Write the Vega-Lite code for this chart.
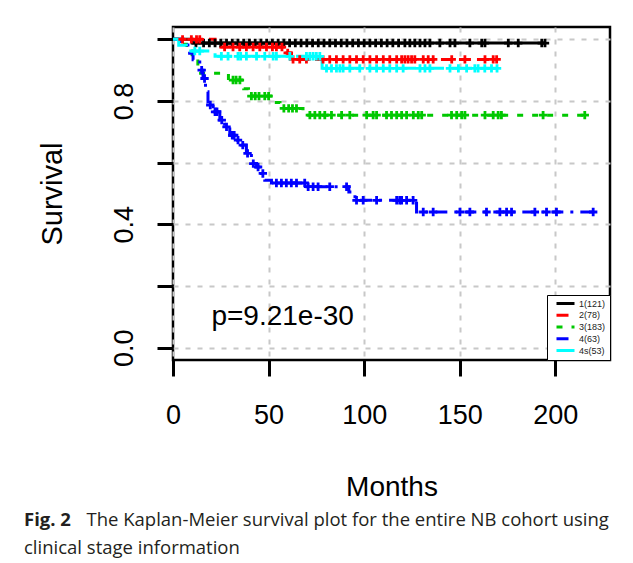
{
  "$schema": "https://vega.github.io/schema/vega-lite/v6.json",
  "width": 437,
  "height": 333,
  "autosize": {"type": "none"},
  "padding": {"left": 173, "top": 27, "right": 23, "bottom": 203},
  "background": "white",
  "datasets": {
    "curves": [
      {"g": "1(121)", "t": 0, "s": 1}, {"g": "1(121)", "t": 10, "s": 0.988}, {"g": "1(121)", "t": 195, "s": 0.988},
      {"g": "2(78)", "t": 0, "s": 1}, {"g": "2(78)", "t": 22, "s": 0.975}, {"g": "2(78)", "t": 58, "s": 0.956}, {"g": "2(78)", "t": 62, "s": 0.935}, {"g": "2(78)", "t": 170, "s": 0.935},
      {"g": "3(183)", "t": 0, "s": 1}, {"g": "3(183)", "t": 4, "s": 0.984}, {"g": "3(183)", "t": 7, "s": 0.962}, {"g": "3(183)", "t": 10, "s": 0.94}, {"g": "3(183)", "t": 13, "s": 0.89}, {"g": "3(183)", "t": 29, "s": 0.868}, {"g": "3(183)", "t": 37, "s": 0.84}, {"g": "3(183)", "t": 39.5, "s": 0.816}, {"g": "3(183)", "t": 53, "s": 0.795}, {"g": "3(183)", "t": 56, "s": 0.776}, {"g": "3(183)", "t": 68, "s": 0.754}, {"g": "3(183)", "t": 215.5, "s": 0.754},
      {"g": "4(63)", "t": 0, "s": 1}, {"g": "4(63)", "t": 4.4, "s": 0.987}, {"g": "4(63)", "t": 7.8, "s": 0.955}, {"g": "4(63)", "t": 10.5, "s": 0.934}, {"g": "4(63)", "t": 14, "s": 0.9}, {"g": "4(63)", "t": 15.7, "s": 0.873}, {"g": "4(63)", "t": 17, "s": 0.83}, {"g": "4(63)", "t": 18.3, "s": 0.787}, {"g": "4(63)", "t": 21, "s": 0.765}, {"g": "4(63)", "t": 24.5, "s": 0.738}, {"g": "4(63)", "t": 27, "s": 0.716}, {"g": "4(63)", "t": 29.7, "s": 0.689}, {"g": "4(63)", "t": 33, "s": 0.673}, {"g": "4(63)", "t": 35.8, "s": 0.657}, {"g": "4(63)", "t": 38.4, "s": 0.63}, {"g": "4(63)", "t": 41, "s": 0.597}, {"g": "4(63)", "t": 43.7, "s": 0.586}, {"g": "4(63)", "t": 46.3, "s": 0.565}, {"g": "4(63)", "t": 48, "s": 0.543}, {"g": "4(63)", "t": 51.5, "s": 0.534}, {"g": "4(63)", "t": 70, "s": 0.522}, {"g": "4(63)", "t": 92, "s": 0.505}, {"g": "4(63)", "t": 95.2, "s": 0.478}, {"g": "4(63)", "t": 127.4, "s": 0.44}, {"g": "4(63)", "t": 221, "s": 0.44},
      {"g": "4s(53)", "t": 0, "s": 1}, {"g": "4s(53)", "t": 3, "s": 0.981}, {"g": "4s(53)", "t": 7, "s": 0.962}, {"g": "4s(53)", "t": 22, "s": 0.945}, {"g": "4s(53)", "t": 78, "s": 0.906}, {"g": "4s(53)", "t": 170, "s": 0.906}
    ],
    "censor": [
      {"g": "1(121)", "t": 12, "s": 0.988}, {"g": "1(121)", "t": 16, "s": 0.988}, {"g": "1(121)", "t": 19, "s": 0.988}, {"g": "1(121)", "t": 22, "s": 0.988}, {"g": "1(121)", "t": 25, "s": 0.988}, {"g": "1(121)", "t": 28, "s": 0.988}, {"g": "1(121)", "t": 31, "s": 0.988}, {"g": "1(121)", "t": 34, "s": 0.988}, {"g": "1(121)", "t": 37, "s": 0.988}, {"g": "1(121)", "t": 40, "s": 0.988}, {"g": "1(121)", "t": 43, "s": 0.988}, {"g": "1(121)", "t": 46, "s": 0.988}, {"g": "1(121)", "t": 49, "s": 0.988}, {"g": "1(121)", "t": 52, "s": 0.988}, {"g": "1(121)", "t": 55, "s": 0.988}, {"g": "1(121)", "t": 58, "s": 0.988}, {"g": "1(121)", "t": 61, "s": 0.988}, {"g": "1(121)", "t": 64, "s": 0.988}, {"g": "1(121)", "t": 67, "s": 0.988}, {"g": "1(121)", "t": 70, "s": 0.988}, {"g": "1(121)", "t": 73, "s": 0.988}, {"g": "1(121)", "t": 76, "s": 0.988}, {"g": "1(121)", "t": 79, "s": 0.988}, {"g": "1(121)", "t": 82, "s": 0.988}, {"g": "1(121)", "t": 85, "s": 0.988}, {"g": "1(121)", "t": 88, "s": 0.988}, {"g": "1(121)", "t": 91, "s": 0.988}, {"g": "1(121)", "t": 94, "s": 0.988}, {"g": "1(121)", "t": 97, "s": 0.988}, {"g": "1(121)", "t": 100, "s": 0.988}, {"g": "1(121)", "t": 103, "s": 0.988}, {"g": "1(121)", "t": 106, "s": 0.988}, {"g": "1(121)", "t": 109, "s": 0.988}, {"g": "1(121)", "t": 112, "s": 0.988}, {"g": "1(121)", "t": 115, "s": 0.988}, {"g": "1(121)", "t": 118, "s": 0.988}, {"g": "1(121)", "t": 121.3, "s": 0.988}, {"g": "1(121)", "t": 123.9, "s": 0.988}, {"g": "1(121)", "t": 126.5, "s": 0.988}, {"g": "1(121)", "t": 129.2, "s": 0.988}, {"g": "1(121)", "t": 131.8, "s": 0.988}, {"g": "1(121)", "t": 134.4, "s": 0.988}, {"g": "1(121)", "t": 139.6, "s": 0.988}, {"g": "1(121)", "t": 144.9, "s": 0.988}, {"g": "1(121)", "t": 147.5, "s": 0.988}, {"g": "1(121)", "t": 155.3, "s": 0.988}, {"g": "1(121)", "t": 161.5, "s": 0.988}, {"g": "1(121)", "t": 163.2, "s": 0.988}, {"g": "1(121)", "t": 175.4, "s": 0.988}, {"g": "1(121)", "t": 180.6, "s": 0.988}, {"g": "1(121)", "t": 192.9, "s": 0.988}, {"g": "1(121)", "t": 194.6, "s": 0.988},
      {"g": "2(78)", "t": 5, "s": 1}, {"g": "2(78)", "t": 9.6, "s": 1}, {"g": "2(78)", "t": 12.3, "s": 1}, {"g": "2(78)", "t": 14, "s": 1}, {"g": "2(78)", "t": 27, "s": 0.975}, {"g": "2(78)", "t": 31.4, "s": 0.975}, {"g": "2(78)", "t": 34.9, "s": 0.975}, {"g": "2(78)", "t": 38.4, "s": 0.975}, {"g": "2(78)", "t": 41.9, "s": 0.975}, {"g": "2(78)", "t": 45.4, "s": 0.975}, {"g": "2(78)", "t": 48.9, "s": 0.975}, {"g": "2(78)", "t": 52, "s": 0.975}, {"g": "2(78)", "t": 54.1, "s": 0.975}, {"g": "2(78)", "t": 57, "s": 0.975}, {"g": "2(78)", "t": 60, "s": 0.956}, {"g": "2(78)", "t": 62.8, "s": 0.935}, {"g": "2(78)", "t": 66.3, "s": 0.935}, {"g": "2(78)", "t": 69.8, "s": 0.935}, {"g": "2(78)", "t": 78.5, "s": 0.935}, {"g": "2(78)", "t": 82, "s": 0.935}, {"g": "2(78)", "t": 85.5, "s": 0.935}, {"g": "2(78)", "t": 89, "s": 0.935}, {"g": "2(78)", "t": 92.5, "s": 0.935}, {"g": "2(78)", "t": 96, "s": 0.935}, {"g": "2(78)", "t": 99.5, "s": 0.935}, {"g": "2(78)", "t": 103, "s": 0.935}, {"g": "2(78)", "t": 106.5, "s": 0.935}, {"g": "2(78)", "t": 110, "s": 0.935}, {"g": "2(78)", "t": 113.4, "s": 0.935}, {"g": "2(78)", "t": 117, "s": 0.935}, {"g": "2(78)", "t": 119.6, "s": 0.935}, {"g": "2(78)", "t": 121.3, "s": 0.935}, {"g": "2(78)", "t": 123, "s": 0.935}, {"g": "2(78)", "t": 124.8, "s": 0.935}, {"g": "2(78)", "t": 126.5, "s": 0.935}, {"g": "2(78)", "t": 130.9, "s": 0.935}, {"g": "2(78)", "t": 133.5, "s": 0.935}, {"g": "2(78)", "t": 136.1, "s": 0.935}, {"g": "2(78)", "t": 145.8, "s": 0.935}, {"g": "2(78)", "t": 152.7, "s": 0.935}, {"g": "2(78)", "t": 163.2, "s": 0.935}, {"g": "2(78)", "t": 167.5, "s": 0.935}, {"g": "2(78)", "t": 169.3, "s": 0.935},
      {"g": "3(183)", "t": 31.4, "s": 0.868}, {"g": "3(183)", "t": 33, "s": 0.868}, {"g": "3(183)", "t": 35, "s": 0.868}, {"g": "3(183)", "t": 41, "s": 0.816}, {"g": "3(183)", "t": 43, "s": 0.816}, {"g": "3(183)", "t": 45, "s": 0.816}, {"g": "3(183)", "t": 48, "s": 0.816}, {"g": "3(183)", "t": 50, "s": 0.816}, {"g": "3(183)", "t": 58, "s": 0.776}, {"g": "3(183)", "t": 60.5, "s": 0.776}, {"g": "3(183)", "t": 62.5, "s": 0.776}, {"g": "3(183)", "t": 64.6, "s": 0.776}, {"g": "3(183)", "t": 71.6, "s": 0.754}, {"g": "3(183)", "t": 74.2, "s": 0.754}, {"g": "3(183)", "t": 76.8, "s": 0.754}, {"g": "3(183)", "t": 79.4, "s": 0.754}, {"g": "3(183)", "t": 82.9, "s": 0.754}, {"g": "3(183)", "t": 88.2, "s": 0.754}, {"g": "3(183)", "t": 92.5, "s": 0.754}, {"g": "3(183)", "t": 101.3, "s": 0.754}, {"g": "3(183)", "t": 104.7, "s": 0.754}, {"g": "3(183)", "t": 106.5, "s": 0.754}, {"g": "3(183)", "t": 111.7, "s": 0.754}, {"g": "3(183)", "t": 114.3, "s": 0.754}, {"g": "3(183)", "t": 117, "s": 0.754}, {"g": "3(183)", "t": 119.6, "s": 0.754}, {"g": "3(183)", "t": 122.2, "s": 0.754}, {"g": "3(183)", "t": 125.7, "s": 0.754}, {"g": "3(183)", "t": 128.3, "s": 0.754}, {"g": "3(183)", "t": 130.1, "s": 0.754}, {"g": "3(183)", "t": 145.7, "s": 0.754}, {"g": "3(183)", "t": 148.4, "s": 0.754}, {"g": "3(183)", "t": 151, "s": 0.754}, {"g": "3(183)", "t": 152.7, "s": 0.754}, {"g": "3(183)", "t": 163.2, "s": 0.754}, {"g": "3(183)", "t": 167.5, "s": 0.754}, {"g": "3(183)", "t": 170.1, "s": 0.754}, {"g": "3(183)", "t": 171.8, "s": 0.754}, {"g": "3(183)", "t": 193.6, "s": 0.754}, {"g": "3(183)", "t": 215.4, "s": 0.754},
      {"g": "4(63)", "t": 15, "s": 0.9}, {"g": "4(63)", "t": 16.5, "s": 0.873}, {"g": "4(63)", "t": 19.5, "s": 0.787}, {"g": "4(63)", "t": 22, "s": 0.765}, {"g": "4(63)", "t": 23, "s": 0.765}, {"g": "4(63)", "t": 25.5, "s": 0.738}, {"g": "4(63)", "t": 28, "s": 0.716}, {"g": "4(63)", "t": 31, "s": 0.689}, {"g": "4(63)", "t": 32, "s": 0.689}, {"g": "4(63)", "t": 34, "s": 0.673}, {"g": "4(63)", "t": 36.5, "s": 0.657}, {"g": "4(63)", "t": 39, "s": 0.63}, {"g": "4(63)", "t": 42, "s": 0.597}, {"g": "4(63)", "t": 44.5, "s": 0.586}, {"g": "4(63)", "t": 47, "s": 0.565}, {"g": "4(63)", "t": 54.1, "s": 0.534}, {"g": "4(63)", "t": 56.7, "s": 0.534}, {"g": "4(63)", "t": 59.3, "s": 0.534}, {"g": "4(63)", "t": 61.9, "s": 0.534}, {"g": "4(63)", "t": 64.6, "s": 0.534}, {"g": "4(63)", "t": 68.9, "s": 0.534}, {"g": "4(63)", "t": 70.7, "s": 0.522}, {"g": "4(63)", "t": 73.3, "s": 0.522}, {"g": "4(63)", "t": 75.9, "s": 0.522}, {"g": "4(63)", "t": 82, "s": 0.522}, {"g": "4(63)", "t": 90.8, "s": 0.522}, {"g": "4(63)", "t": 96, "s": 0.478}, {"g": "4(63)", "t": 99.5, "s": 0.478}, {"g": "4(63)", "t": 106.5, "s": 0.478}, {"g": "4(63)", "t": 117, "s": 0.478}, {"g": "4(63)", "t": 118.6, "s": 0.478}, {"g": "4(63)", "t": 119.6, "s": 0.478}, {"g": "4(63)", "t": 122.2, "s": 0.478}, {"g": "4(63)", "t": 125.6, "s": 0.478}, {"g": "4(63)", "t": 130.9, "s": 0.44}, {"g": "4(63)", "t": 136.1, "s": 0.44}, {"g": "4(63)", "t": 150.1, "s": 0.44}, {"g": "4(63)", "t": 155.3, "s": 0.44}, {"g": "4(63)", "t": 164, "s": 0.44}, {"g": "4(63)", "t": 171, "s": 0.44}, {"g": "4(63)", "t": 174.5, "s": 0.44}, {"g": "4(63)", "t": 177.1, "s": 0.44}, {"g": "4(63)", "t": 189.3, "s": 0.44}, {"g": "4(63)", "t": 195.4, "s": 0.44}, {"g": "4(63)", "t": 200.6, "s": 0.44}, {"g": "4(63)", "t": 219.8, "s": 0.44},
      {"g": "4s(53)", "t": 11.4, "s": 0.962}, {"g": "4s(53)", "t": 14, "s": 0.962}, {"g": "4s(53)", "t": 25.3, "s": 0.945}, {"g": "4s(53)", "t": 28.8, "s": 0.945}, {"g": "4s(53)", "t": 34, "s": 0.945}, {"g": "4s(53)", "t": 35.4, "s": 0.945}, {"g": "4s(53)", "t": 38.4, "s": 0.945}, {"g": "4s(53)", "t": 43.7, "s": 0.945}, {"g": "4s(53)", "t": 48, "s": 0.945}, {"g": "4s(53)", "t": 52.4, "s": 0.945}, {"g": "4s(53)", "t": 54.1, "s": 0.945}, {"g": "4s(53)", "t": 61.1, "s": 0.945}, {"g": "4s(53)", "t": 69.8, "s": 0.945}, {"g": "4s(53)", "t": 71.6, "s": 0.945}, {"g": "4s(53)", "t": 73.3, "s": 0.945}, {"g": "4s(53)", "t": 75, "s": 0.945}, {"g": "4s(53)", "t": 76.8, "s": 0.945}, {"g": "4s(53)", "t": 80.3, "s": 0.906}, {"g": "4s(53)", "t": 82.9, "s": 0.906}, {"g": "4s(53)", "t": 85.5, "s": 0.906}, {"g": "4s(53)", "t": 87.3, "s": 0.906}, {"g": "4s(53)", "t": 89, "s": 0.906}, {"g": "4s(53)", "t": 92.5, "s": 0.906}, {"g": "4s(53)", "t": 97.7, "s": 0.906}, {"g": "4s(53)", "t": 103, "s": 0.906}, {"g": "4s(53)", "t": 106.5, "s": 0.906}, {"g": "4s(53)", "t": 110, "s": 0.906}, {"g": "4s(53)", "t": 113.4, "s": 0.906}, {"g": "4s(53)", "t": 117, "s": 0.906}, {"g": "4s(53)", "t": 120.4, "s": 0.906}, {"g": "4s(53)", "t": 129.2, "s": 0.906}, {"g": "4s(53)", "t": 131.8, "s": 0.906}, {"g": "4s(53)", "t": 134.4, "s": 0.906}, {"g": "4s(53)", "t": 144.9, "s": 0.906}, {"g": "4s(53)", "t": 149.3, "s": 0.906}, {"g": "4s(53)", "t": 153.6, "s": 0.906}, {"g": "4s(53)", "t": 157.9, "s": 0.906}, {"g": "4s(53)", "t": 159.6, "s": 0.906}, {"g": "4s(53)", "t": 163.1, "s": 0.906}, {"g": "4s(53)", "t": 166.6, "s": 0.906}, {"g": "4s(53)", "t": 169.5, "s": 0.906}
    ],
    "annot": [{"t": 20.1, "s": 0.075, "label": "p=9.21e-30"}]
  },
  "title": {
    "text": "Fig. 2",
    "subtitle": ["\u200b\u00a0\u00a0\u00a0\u00a0\u00a0\u00a0\u00a0\u00a0\u00a0\u00a0\u00a0\u00a0\u00a0The Kaplan-Meier survival plot for the entire NB cohort using", "clinical stage information"],
    "orient": "bottom",
    "anchor": "start",
    "frame": "group",
    "offset": 10,
    "dx": -149,
    "baseline": "top",
    "font": "Open Sans",
    "fontSize": 18.5,
    "fontWeight": "bold",
    "color": "#231f20",
    "subtitleFont": "Open Sans",
    "subtitleFontSize": 18.5,
    "subtitleFontWeight": "normal",
    "subtitleColor": "#231f20",
    "subtitleLineHeight": 28,
    "subtitlePadding": -18.5
  },
  "layer": [
    {
      "data": {"name": "curves"},
      "mark": {"type": "line", "interpolate": "step-after", "strokeWidth": 3, "strokeCap": "butt"},
      "encoding": {
        "x": {
          "field": "t", "type": "quantitative",
          "scale": {"domain": [0, 228.6], "nice": false, "zero": false},
          "axis": {
            "values": [0, 50, 100, 150, 200],
            "title": "Months",
            "titleX": 218.5, "titleY": 135, "titleAlign": "center", "titleBaseline": "alphabetic",
            "titleFontSize": 28,
            "labelBaseline": "alphabetic", "labelPadding": 47, "labelFontSize": 27
          }
        },
        "y": {
          "field": "s", "type": "quantitative",
          "scale": {"domain": [-0.04, 1.04], "nice": false, "zero": false},
          "axis": {
            "values": [0, 0.2, 0.4, 0.6, 0.8, 1],
            "labelExpr": "datum.value == 0 || datum.value == 0.4 || datum.value == 0.8 ? format(datum.value, '.1f') : ''",
            "labelAngle": -90, "labelAlign": "center", "labelBaseline": "alphabetic", "labelPadding": 25, "labelFontSize": 27,
            "title": "Survival",
            "titleAngle": -90, "titleX": -111.3, "titleY": 166.5, "titleAlign": "center", "titleBaseline": "alphabetic",
            "titleFontSize": 29
          }
        },
        "color": {
          "field": "g", "type": "nominal",
          "scale": {"domain": ["1(121)", "2(78)", "3(183)", "4(63)", "4s(53)"], "range": ["#000000", "#ff0000", "#00c800", "#0000ff", "#00ffff"]},
          "legend": {
            "title": null, "orient": "none", "legendX": 374, "legendY": 268,
            "strokeColor": "black", "fillColor": "white", "padding": 4,
            "symbolType": "M-3,0H3", "symbolSize": 36, "symbolStrokeWidth": 3, "symbolOffset": 10,
            "clipHeight": 9, "labelFontSize": 9, "labelOffset": 9, "rowPadding": 1.75, "labelFont": "Liberation Sans", "labelColor": "#222"
          }
        },
        "strokeDash": {
          "field": "g", "type": "nominal",
          "scale": {"domain": ["1(121)", "2(78)", "3(183)", "4(63)", "4s(53)"], "range": [[1, 0], [12, 6], [6, 9], [12, 7, 3, 7], [20, 8]]},
          "legend": {
            "title": null, "orient": "none", "legendX": 374, "legendY": 268,
            "strokeColor": "black", "fillColor": "white", "padding": 4,
            "symbolType": "M-3,0H3", "symbolSize": 36, "symbolStrokeWidth": 3, "symbolOffset": 10,
            "clipHeight": 9, "labelFontSize": 9, "labelOffset": 9, "rowPadding": 1.75, "labelFont": "Liberation Sans", "labelColor": "#222"
          }
        }
      }
    },
    {
      "data": {"name": "censor"},
      "mark": {"type": "point", "shape": "M-1,0H1M0,-1V1", "filled": false, "size": 70, "strokeWidth": 2.8, "opacity": 1},
      "encoding": {
        "x": {"field": "t", "type": "quantitative"},
        "y": {"field": "s", "type": "quantitative"},
        "color": {"field": "g", "type": "nominal", "legend": null}
      }
    },
    {
      "data": {"name": "annot"},
      "mark": {"type": "text", "align": "left", "baseline": "alphabetic", "font": "Liberation Sans", "fontSize": 28, "color": "#000"},
      "encoding": {
        "x": {"field": "t", "type": "quantitative"},
        "y": {"field": "s", "type": "quantitative"},
        "text": {"field": "label"}
      }
    }
  ],
  "config": {
    "view": {"stroke": "black", "strokeWidth": 2.5},
    "axis": {
      "domain": false,
      "ticks": true, "tickSize": 16, "tickWidth": 3, "tickColor": "black",
      "grid": true, "gridColor": "#c8c8c8", "gridDash": [5, 7], "gridWidth": 2,
      "labelFont": "Liberation Sans", "labelColor": "black", "labelFlush": false, "labelOverlap": false,
      "titleFont": "Liberation Sans", "titleFontWeight": "normal", "titleColor": "black"
    }
  }
}
